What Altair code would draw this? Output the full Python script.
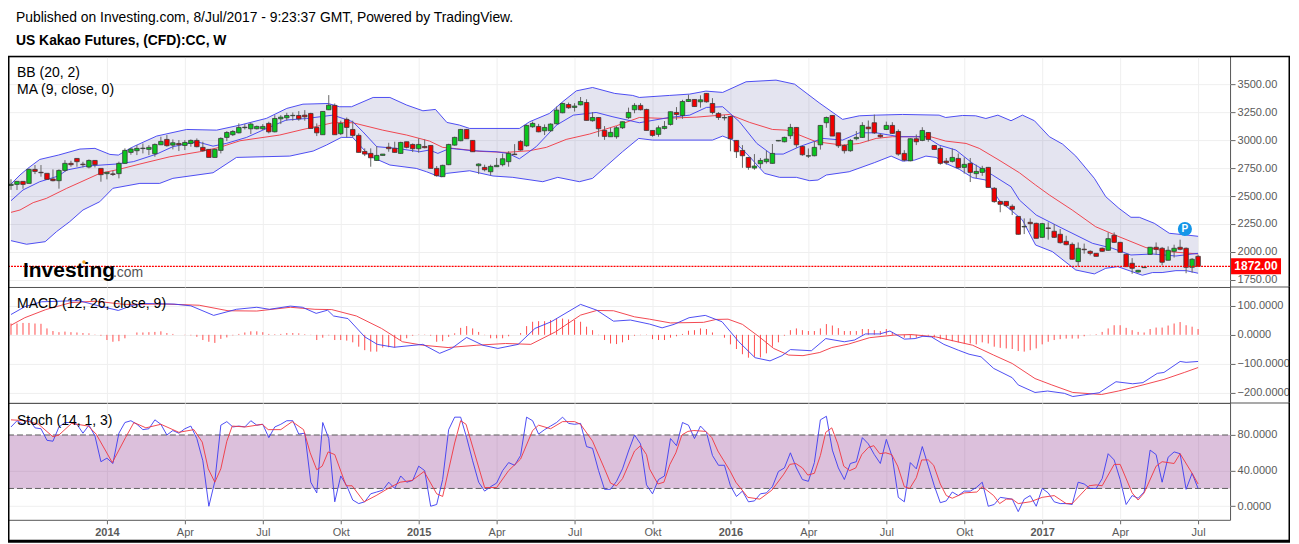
import altair as alt
import numpy as np
import pandas as pd

FONT = "Liberation Sans"
TITLE_1 = "Published on Investing.com, 8/Jul/2017 - 9:23:37 GMT, Powered by TradingView."
TITLE_2 = "US Kakao Futures, (CFD):CC, W"

opens = [2595,2604,2631,2613,2738,2712,2703,2652,2637,2729,
2792,2836,2785,2759,2818,2747,2700,2698,2700,2792,
2890,2905,2924,2917,2878,2958,3006,2955,2970,2952,
2970,2997,2935,2917,2845,2908,3024,3048,3065,3111,
3101,3101,3101,3149,3074,3190,3199,3218,3220,3223,
3238,3113,3048,3271,3310,3057,3185,3095,3042,2899,
2881,2818,2863,2937,2926,2881,2985,2961,2923,2943,
2952,2747,2673,2780,2955,2994,3095,2997,2771,2756,
2717,2762,2780,2807,2875,2988,2949,3119,3122,3083,
3083,3146,3244,3318,3292,3315,3336,3173,3202,3086,
3030,3030,3110,3200,3271,3310,3274,3086,3051,3104,
3140,3247,3220,3345,3363,3342,3417,3327,3238,3198,
3211,2997,2908,2845,2750,2789,2807,2792,2992,2985,
3039,3113,2943,2857,2860,2958,3155,3220,3065,2952,
2905,3012,3024,3116,3155,3045,3095,3131,3077,2881,
2815,3012,2997,3068,2952,2925,2812,2810,2836,2756,
2792,2700,2711,2756,2569,2452,2452,2408,2318,2224,
2265,2256,2131,2215,2185,2158,2095,2068,1914,2025,
2006,1988,2033,2015,2149,2086,1979,1899,1821,1860,
1979,2042,2033,1926,2006,2042,2033,1863,1961]
closes = [2605,2631,2604,2738,2720,2708,2649,2637,2729,2792,
2780,2807,2780,2818,2780,2691,2712,2693,2792,2908,
2920,2926,2928,2935,2961,2988,2950,2976,2958,2979,
2997,2941,2905,2845,2917,3015,3068,3077,3113,3115,
3143,3122,3122,3074,3193,3205,3220,3221,3190,3208,
3104,3065,3256,3312,3048,3149,3113,3042,2890,2875,
2842,2863,2875,2923,2890,2979,2935,2923,2961,2932,
2747,2682,2774,2961,3024,3095,3012,2896,2786,2735,
2765,2774,2833,2881,2870,2911,3131,3149,3074,3113,
3143,3268,3327,3289,3304,3345,3176,3202,3101,3033,
3069,3110,3164,3247,3310,3271,3086,3042,3110,3122,
3253,3229,3345,3363,3300,3360,3342,3247,3202,3202,
3012,2896,2860,2756,2768,2818,2830,2881,2997,3024,
3113,2958,2869,2860,2935,3131,3202,3036,2949,2905,
2997,3024,3131,3101,3065,3030,3131,3060,2875,2821,
3012,2985,3086,3006,2916,2792,2798,2845,2753,2783,
2711,2720,2747,2577,2450,2426,2414,2381,2158,2228,
2253,2122,2253,2210,2131,2083,2065,1935,2033,2020,
1988,1961,2006,2119,2086,1997,1869,1854,1836,1864,
2042,2024,1908,2015,2033,2024,1863,1935,1872]
highs = [2650,2631,2631,2747,2777,2777,2703,2738,2738,2821,
2815,2836,2806,2827,2821,2747,2712,2726,2807,2926,
2932,2955,2970,2955,2970,3030,3045,3006,3000,3000,
3006,3015,2985,2917,2917,3024,3080,3089,3149,3143,
3155,3130,3143,3164,3223,3223,3244,3247,3259,3268,
3244,3149,3256,3402,3327,3173,3202,3173,3060,2926,
2926,2946,2875,2976,2985,2985,2985,2970,3015,3006,
2952,2768,2780,2967,3030,3100,3100,3000,2792,2780,
2780,2840,2880,2900,2964,3000,3140,3165,3145,3140,
3150,3300,3335,3335,3330,3385,3365,3250,3205,3125,
3110,3125,3165,3290,3330,3330,3280,3086,3130,3170,
3255,3295,3360,3405,3363,3400,3420,3375,3250,3225,
3215,3000,2955,2850,2875,2840,2905,2965,2998,3030,
3145,3115,2950,2925,2990,3135,3210,3222,3065,2960,
3010,3080,3160,3175,3228,3060,3165,3160,3095,2910,
3015,3050,3115,3072,2955,2945,2840,2925,2880,2845,
2840,2780,2770,2760,2580,2455,2455,2425,2320,2300,
2300,2262,2260,2265,2250,2205,2145,2085,2085,2075,
2015,1990,2040,2175,2175,2090,1985,1945,1840,1868,
2045,2085,2045,2050,2065,2110,2040,1945,1975]
lows = [2555,2554,2565,2613,2696,2673,2649,2631,2566,2717,
2762,2762,2756,2747,2756,2628,2649,2679,2658,2786,
2869,2866,2881,2866,2851,2958,2941,2917,2902,2911,
2941,2935,2896,2845,2845,2881,2991,3036,3060,3095,
3054,3095,3089,3060,3069,3143,3173,3173,3173,3173,
3104,3036,3048,3268,3048,3045,3024,3024,2890,2857,
2762,2815,2863,2896,2887,2878,2926,2893,2887,2926,
2747,2673,2670,2776,2950,2990,3010,2896,2696,2720,
2685,2760,2765,2762,2866,2905,2940,3110,3070,3045,
3075,3140,3240,3280,3255,3310,3176,3165,3030,3002,
3030,3012,3100,3190,3240,3265,3086,3030,3030,3095,
3130,3180,3190,3340,3300,3290,3335,3230,3180,3175,
2900,2840,2752,2735,2735,2750,2790,2790,2990,2980,
3010,2932,2860,2840,2855,2915,3110,3036,2930,2880,
2895,2998,3020,2990,3055,3020,3090,3055,2860,2810,
2810,2955,2990,2985,2915,2780,2780,2800,2745,2700,
2625,2660,2680,2577,2440,2355,2400,2330,2155,2160,
2180,2120,2125,2110,2125,2075,2060,1930,1870,1985,
1970,1960,2000,2010,2080,1995,1865,1805,1815,1858,
1975,1975,1880,1925,1950,2015,1810,1815,1870]

upper_i = [0,1.5,2.8,4.8,7.9,11.5,14,16.5,17.9,20.4,24.3,29.3,34.3,38.2,42.6,46,48.7,52.9,54.8,56.8,60.4,63.2,66,68.7,
           70.8,72.7,74.8,76.5,84.8,86.5,89.8,92,94.3,97,100.7,103.7,104.8,109.8,113.2,115.9,118.7,122.6,127.6,130.7,134.8,138.7,
           141.5,144.3,148.7,154.8,155.9,158.7,160.9,162.6,164.6,166.8,168.7,170.7,173.2,175.4,177.6,180.7,182.6,184.8,186.8,188.2,190.7,193.2,196,198]
upper_v = [2607,2688,2747,2827,2866,2920,2926,2872,2866,2941,3036,3095,3089,3134,3194,3283,3321,3327,3298,3298,3381,3381,3313,3262,
           3274,3158,3134,3104,3104,3164,3238,3342,3440,3470,3417,3399,3381,3399,3411,3438,3426,3521,3536,3500,3333,3185,
           3217,3223,3229,3223,3202,3220,3217,3193,3223,3173,3223,3173,3030,2964,2857,2658,2494,2390,2310,2310,2256,2167,2152,2140]
lower_i = [0,2.6,5.7,7.6,9.8,12,14.8,17,21.5,24.8,27,33.7,37.6,46.5,50.4,52.6,55.1,57,59.8,63.2,67.6,69.3,
           70.7,71.8,72.6,76.5,80.4,83.7,88.7,91.2,94.8,97,99.3,102,104.7,107,117,118.7,120.4,123.2,125.7,128.2,131,133.2,134.6,136,139.8,
           144,146.8,148.7,150.7,152.6,154.3,155.9,158.2,160.4,162.6,164.8,168.7,170.9,173.7,177.6,180.7,182.6,184.6,188.7,190.4,192,194.3,196,198]
lower_v = [2101,2069,2092,2182,2271,2375,2449,2569,2613,2613,2658,2708,2845,2857,2902,2955,3024,3024,2857,2777,2747,2717,
           2688,2673,2702,2726,2679,2667,2628,2667,2628,2658,2768,2896,3015,3000,3000,3036,3000,2851,2702,2667,2667,2637,2643,2688,2717,
           2798,2857,2812,2821,2857,2845,2792,2738,2664,2643,2464,2286,2062,2003,1839,1804,1854,1869,1792,1816,1816,1833,1833,1810]
basis_i = [0,1.5,3.7,5.9,9.3,11.5,14.8,18.2,21.5,26.5,31.5,34.8,38.2,44.8,48.7,53.7,57,62,66,
           69.8,72,74.3,78.2,82.6,86.5,89.3,92.6,96.5,101,104.8,108.7,114.3,119.8,123.2,127,129.3,131.5,134.3,138.7,
           141.5,144.3,147,150.9,153.4,155.9,159.3,161.5,164.8,168.2,170.9,173.2,177,180.9,184.8,189.3,193.2,198]
basis_v = [2354,2375,2441,2479,2569,2622,2702,2741,2786,2851,2896,2935,2994,3045,3095,3155,3155,3089,3045,
           2991,2935,2923,2899,2890,2905,2935,3006,3054,3128,3202,3194,3205,3229,3158,3095,3089,3045,2985,2955,
           2970,3015,3030,3030,3030,2991,2970,2926,2821,2708,2598,2509,2375,2226,2137,2039,2003,1982]
ma_i = [0,2,4.8,7.9,9.3,12.6,17.6,20.4,24.3,27,31,33.7,35.9,39.3,42,45.9,49.3,53.7,57,58.7,61,64.3,68.2,
        69.8,71.2,73.2,77,80.9,82.9,84.8,87.6,91,93.8,97.6,100.4,104.8,109.8,113.2,116,118.7,121.5,124.4,126.8,128.8,131.5,135.4,138.7,
        141.5,144.3,148.2,152.6,154.8,157.6,160.4,163.7,166.8,168.2,171,174.8,180.4,183.7,186.8,190.4,194.3,198]
ma_v = [2458,2554,2628,2679,2732,2768,2786,2807,2875,2941,2985,2946,2970,3024,3089,3179,3193,3223,3164,3074,2941,2926,2896,
        2911,2881,2926,2905,2896,2881,2833,2941,3134,3223,3247,3208,3155,3202,3223,3292,3298,3164,2970,2875,2875,2941,3015,3000,
        3065,3065,3030,3030,2955,2911,2792,2688,2583,2464,2330,2226,2077,2033,1973,1982,1964,1988]

macd_i = [0,2.3,5.1,11.3,14.8,17.9,20.3,22.4,27.2,30,33.8,37.6,41,43.1,46.6,48.6,50.9,52.8,53.8,56.2,59,61.1,63.9,68.7,71.5,73.5,76,78.7,81.2,84.6,87.4,90.1,95,97.7,100.5,103.3,
          106.5,108.6,110.6,113.1,115.8,118.6,121.4,124.1,126.6,128.6,130,133.5,135.9,139,140.7,142.5,144.9,146.6,149,150.8,152.1,153.5,155.6,158,159.8,161.8,163.9,167,168,170.8,172.9,175.7,177.1,181.5,184.3,187.1,188.8,191.2,192.3,195,196,198]
macd_v = [70,97,114,118,99,84,102,108,106,100,67,88,95,88,99,95,74,85,65,56,-7,-33,-43,-33,-64,-47,-9,-36,-47,-33,22,45,105,85,47,51,
          37,24,36,59,67,45,-24,-79,-90,-72,-51,-55,-13,-24,-18,3,3,13,-15,-13,-5,-7,-33,-53,-67,-76,-116,-148,-173,-199,-194,-202,-213,-200,-162,-169,-165,-133,-130,-92,-95,-92]
signal_i = [0,2.3,5.8,10,14.1,18.9,25.8,31.4,36.2,41,46.6,50.7,53.5,57.6,61.8,65.3,68.7,72.9,77.7,82.5,86.7,90.8,95,97.7,100.5,104,
            106.5,110,115.5,117.6,119.6,122,124.8,127.2,129.7,132.1,134.9,136.9,139.7,143.2,147.3,150.1,154.2,160.4,163.9,167,170.8,173.6,177.1,181.9,184.7,188.8,192.3,195.7,198]
signal_v = [33,59,87,111,116,105,106,102,83,82,95,88,87,65,22,-24,-36,-44,-36,-30,-33,10,68,84,83,62,
            54,41,43,53,54,36,-7,-47,-70,-72,-61,-44,-32,-10,-1,1,-7,-36,-70,-99,-151,-173,-199,-206,-194,-173,-154,-130,-113]
hist_v = [39,39,41,41,39,38,22,13,9,11,
9,8,6,5,1,-3,-18,-24,-22,-12,
0,8,8,9,10,12,6,3,0,-1,
-2,-7,-18,-24,-28,-14,-9,-2,3,8,
12,12,9,3,2,3,6,6,5,2,
-1,-18,-10,-2,-18,-18,-20,-26,-41,-53,
-58,-58,-44,-43,-44,-18,-12,-3,1,1,
-3,-24,-22,-7,5,24,30,22,10,-1,
-12,-12,-12,-5,0,6,30,45,47,47,
51,56,56,53,51,45,28,16,-1,-18,
-30,-32,-26,-18,-3,-1,1,
-15,-18,-18,-10,-5,3,14,16,22,20,
8,0,-10,-33,-49,-67,-79,-76,-78,-64,
-41,-26,-3,16,22,16,13,13,22,37,
32,23,13,13,13,20,20,16,13,20,
10,1,-10,-13,-10,-3,-3,-9,-15,-18,
-22,-26,-30,-30,-33,-26,-30,-41,-45,-47,
-49,-56,-58,-53,-47,-33,-24,-18,-15,-13,
-13,-13,-5,-1,2,10,22,33,33,24,
16,10,8,20,25,25,32,39,44,33,
28,20]

stoch_k = [89,96,92,98,88,87,74,73,89,94,
94,92,82,91,79,50,54,48,82,94,
96,92,86,87,97,92,80,85,82,87,
90,76,51,0,28,91,95,89,90,89,
96,91,92,77,89,92,96,96,81,82,
27,15,94,76,5,34,23,7,3,5,
14,16,18,27,20,34,27,29,45,40,
0,2,30,86,100,100,77,51,27,17,
22,26,40,49,46,57,100,96,81,86,
90,94,100,93,92,93,67,65,40,19,
19,28,42,62,80,70,24,
14,30,34,76,68,94,91,76,90,83,
57,46,46,23,11,17,5,6,14,15,
22,39,43,60,43,30,28,49,97,101,
63,43,30,48,50,77,70,58,48,75,
55,10,5,49,42,67,45,23,4,6,
16,12,17,17,21,27,0,2,10,9,
8,-6,8,12,0,20,15,5,3,3,
2,27,25,20,20,31,59,52,30,2,
12,9,16,63,58,27,55,61,59,19,
37,20]
stoch_d_i = [0,2.5,4.6,7,8,10.1,12.9,14.2,16.9,19.1,20.5,22.5,25,27,28,30.5,31.9,32.9,34,35,36,36.9,39.1,41.9,42.9,45,46.9,48.8,49.9,51,51.9,52.9,54,55.9,56.9,58.9,60.9,62.9,64.9,66.9,68.9,71,72,74,75,75.9,79,81,83,85,87,88,90,92,94,95,97,99,100,101,102,104,105,106,
             106.5,107.9,108.9,109.9,110.9,111.9,112.9,113.9,115.9,116.9,117.9,119.9,120.9,122.9,124.9,126.9,128.9,129.9,130.9,132,132.9,134,135,135.9,136.9,137.9,138.9,139.9,140.9,141.9,143,143.9,144.9,145.9,146.9,147.9,149,149.9,151,151.9,153,153.9,155,156,157,159,
             161.1,162,163.9,164.9,166,167,168,170,172,174,176,177,179.8,181,182,184,185,187,188,189,191,192,194,195,197,198]
stoch_d_v = [97,96,92,78,80,93,90,81,49,77,94,88,92,86,83,86,72,42,27,42,73,90,89,92,86,86,95,86,60,41,45,61,58,23,23,5,12,20,27,29,39,14,11,71,96,92,21,21,40,53,85,91,87,95,95,92,73,42,26,23,31,62,68,58,
             42,25,27,47,60,80,84,85,84,77,62,40,27,10,8,18,36,47,48,43,35,37,57,83,88,70,45,40,43,58,66,68,59,60,58,45,22,20,32,52,52,46,25,12,9,15,
             16,22,12,3,8,8,3,5,10,12,3,3,23,24,23,47,47,15,7,15,45,50,48,59,37,25]

price_ticks = [3500,3250,3000,2750,2500,2250,2000,1750]
macd_ticks = [100,0,-100,-200]
stoch_ticks = [80,40,0]
x_ticks = [16,29,42,55,68,81,94,107,120,133,146,159,172,185,198]
x_labels = ["2014","Apr","Jul","Okt","2015","Apr","Jul","Okt","2016","Apr","Jul","Okt","2017","Apr","Jul"]
year_ticks = [16,68,120,172]
last_price = 1872

n = len(closes)
idx = np.arange(n)
candles = pd.DataFrame({"i": idx, "o": opens, "c": closes, "h": highs, "l": lows})
candles["dir"] = np.where(candles.c >= candles.o, "up", "down")
grid_i = np.unique(np.concatenate([upper_i, lower_i]))
band = pd.DataFrame({"i": grid_i, "u": np.interp(grid_i, upper_i, upper_v), "d": np.interp(grid_i, lower_i, lower_v)})
one = pd.DataFrame({"a": [0]})

W = 1223
OUTER = 1283
H1, H2, H3 = 231, 116, 117
X_LO, X_HI = -0.5, 203.33
xs = alt.Scale(domain=[X_LO, X_HI], nice=False, zero=False, padding=0)
s1 = alt.Scale(domain=[1687, 3750], nice=False, zero=False, padding=0)
s2 = alt.Scale(domain=[-235, 165], nice=False, zero=False, padding=0)
s3 = alt.Scale(domain=[-15.2, 116], nice=False, zero=False, padding=0)

label_map = "{" + ",".join(f"{t}:'{l}'" for t, l in zip(x_ticks, x_labels)) + "}"
year_test = " || ".join(f"datum.value==={t}" for t in year_ticks)
hidden_x = alt.Axis(values=x_ticks, labels=False, ticks=False, domain=False, grid=True, title=None)
shown_x = alt.Axis(values=x_ticks, labelExpr=label_map + "[datum.value]", grid=True, title=None, domain=False,
                   tickSize=4, labelPadding=3, labelFontWeight={"condition": {"test": year_test, "value": "bold"}, "value": "normal"})
X = lambda ax=None: alt.X("i:Q", scale=xs, axis=ax)


def line(xv, yv, scale, color, width=1.0, op=0.9):
    return alt.Chart(pd.DataFrame({"i": xv, "v": yv})).mark_line(color=color, strokeWidth=width, opacity=op).encode(
        X(), alt.Y("v:Q", scale=scale, axis=None))


def note(txt, x, y, size=14, weight="normal", color="#000000", font=FONT):
    return alt.Chart(one).mark_text(text=txt, align="left", baseline="alphabetic", fontSize=size, fontWeight=weight,
                                    color=color, font=font).encode(x=alt.value(x), y=alt.value(y))


def box(x0, x1, y0, y1, color, op=1.0):
    return alt.Chart(one).mark_rect(color=color, opacity=op).encode(
        x=alt.value(x0), x2=alt.value(x1), y=alt.value(y0), y2=alt.value(y1))


BLUE = "#3b3bf2"
RED = "#f0353f"
GREY = "#555555"

band_area = alt.Chart(band).mark_area(color="#2c2c8c", opacity=0.13).encode(
    X(hidden_x),
    alt.Y("u:Q", scale=s1, title=None, axis=alt.Axis(values=price_ticks, format=".2f", orient="right", grid=True, domain=False,
                                                     tickSize=5, labelPadding=2)),
    alt.Y2("d:Q"))
wicks = alt.Chart(candles).mark_rule(color="#666666", strokeWidth=1).encode(
    X(), alt.Y("l:Q", scale=s1, axis=None), alt.Y2("h:Q"))
bodies = alt.Chart(candles).mark_bar(size=4.5, stroke="#3a3a3a", strokeWidth=0.8, orient="vertical").encode(
    X(), alt.Y("o:Q", scale=s1, axis=None), alt.Y2("c:Q"),
    color=alt.Color("dir:N", scale=alt.Scale(domain=["up", "down"], range=["#0ac51e", "#f00000"]), legend=None))
price_line = alt.Chart(one).mark_rule(color="#ff0000", strokeWidth=1.2, strokeDash=[2, 1]).encode(
    x=alt.value(0), x2=alt.value(W), y=alt.Y(datum=last_price, scale=s1, axis=None))
price_box = alt.Chart(one).mark_rect(color="#ff0000").encode(
    x=alt.value(W + 1), x2=alt.value(W + 51),
    y=alt.Y(datum=last_price + 71, scale=s1, axis=None), y2=alt.Y2(datum=last_price - 71))
price_text = alt.Chart(one).mark_text(text="1872.00", color="#ffffff", fontWeight="bold", fontSize=12, font=FONT, align="center", baseline="middle").encode(
    x=alt.value(W + 26), y=alt.Y(datum=last_price, scale=s1, axis=None))
p_pin = alt.Chart(pd.DataFrame({"i": [195.8], "v": [2205]})).mark_circle(size=200, color="#1596e8", opacity=1).encode(
    X(), alt.Y("v:Q", scale=s1, axis=None))
p_text = alt.Chart(pd.DataFrame({"i": [195.8], "v": [2205]})).mark_text(text="P", color="#ffffff", fontWeight="bold", fontSize=10, font=FONT, baseline="middle").encode(
    X(), alt.Y("v:Q", scale=s1, axis=None))
logo_dot = alt.Chart(one).mark_circle(size=12, color="#f5a623", opacity=1).encode(x=alt.value(76), y=alt.value(206))

top = alt.layer(
    band_area,
    line(upper_i, upper_v, s1, BLUE), line(lower_i, lower_v, s1, BLUE),
    line(basis_i, basis_v, s1, RED), line(ma_i, ma_v, s1, BLUE),
    wicks, bodies, price_line, price_box, price_text, p_pin, p_text,
    note("BB (20, 2)", 9, 21), note("MA (9, close, 0)", 9, 38),
    note("Investing", 15, 221, size=21, weight="bold"), note(".com", 105, 221, size=14, color="#555555"), logo_dot,
    note(TITLE_1, 8, -34, size=13.9), note(TITLE_2, 8, -11, size=13.9, weight="bold"),
    box(0, 1, -48, -47, "#ffffff", 0),
    box(0, OUTER, -0.5, 1, "#000000"),
    box(0, 1.5, 0, H1, "#000000"),
    box(OUTER - 1.5, OUTER, 0, H1, "#000000"),
    box(W, OUTER, H1 - 0.5, H1 + 0.5, GREY),
).resolve_axis(x="independent", y="independent").properties(width=W, height=H1)

hist = alt.Chart(pd.DataFrame({"i": idx[:len(hist_v)], "v": hist_v, "z": 0})).mark_rule(color="#ff4d4d", strokeWidth=1).encode(
    X(hidden_x),
    alt.Y("v:Q", scale=s2, title=None, axis=alt.Axis(values=macd_ticks, format=".4f", orient="right", grid=True, domain=False,
                                                     tickSize=5, labelPadding=2)),
    alt.Y2("z:Q"))
mid = alt.layer(
    hist, line(signal_i, signal_v, s2, RED), line(macd_i, macd_v, s2, BLUE),
    note("MACD (12, 26, close, 9)", 9, 21),
    box(0, 1.5, 0, H2, "#000000"),
    box(OUTER - 1.5, OUTER, 0, H2, "#000000"),
    box(W, OUTER, H2 - 0.5, H2 + 0.5, GREY),
).resolve_axis(x="independent", y="independent").properties(width=W, height=H2)

zone = alt.Chart(one).mark_rect(color="#821e82", opacity=0.28).encode(
    alt.X(datum=X_LO, scale=xs, axis=shown_x), alt.X2(datum=X_HI),
    alt.Y(datum=80, scale=s3, title=None, axis=alt.Axis(values=stoch_ticks, format=".4f", orient="right", grid=True, domain=False,
                                                       tickSize=5, labelPadding=2)),
    alt.Y2(datum=20))
dash80 = alt.Chart(one).mark_rule(color="#5f5f5f", strokeDash=[6, 3], strokeWidth=1).encode(
    x=alt.value(0), x2=alt.value(W), y=alt.Y(datum=80, scale=s3, axis=None))
dash20 = alt.Chart(one).mark_rule(color="#5f5f5f", strokeDash=[6, 3], strokeWidth=1).encode(
    x=alt.value(0), x2=alt.value(W), y=alt.Y(datum=20, scale=s3, axis=None))
bot = alt.layer(
    zone, dash80, dash20, line(list(idx[:len(stoch_k)]), stoch_k, s3, BLUE), line(stoch_d_i, stoch_d_v, s3, RED),
    note("Stoch (14, 1, 3)", 9, 22),
    box(0, 1.5, 0, 139, "#000000"),
    box(OUTER - 1.5, OUTER, 0, 139, "#000000"),
    box(0, OUTER, 137, 140, "#000000"),
).resolve_axis(x="independent", y="independent").properties(width=W, height=H3)

chart = alt.vconcat(top, mid, bot, spacing=0, bounds="flush").properties(
    padding={"left": -2, "top": -1, "right": 0, "bottom": 0}, background="white"
).configure_view(stroke=GREY).configure_axis(
    labelFont=FONT, labelFontSize=11, labelColor="#5a5a5a", tickColor="#666666", gridColor="#efefef", gridWidth=1
)
chart.save("out.html", embed_options={"renderer": "svg", "actions": False})
